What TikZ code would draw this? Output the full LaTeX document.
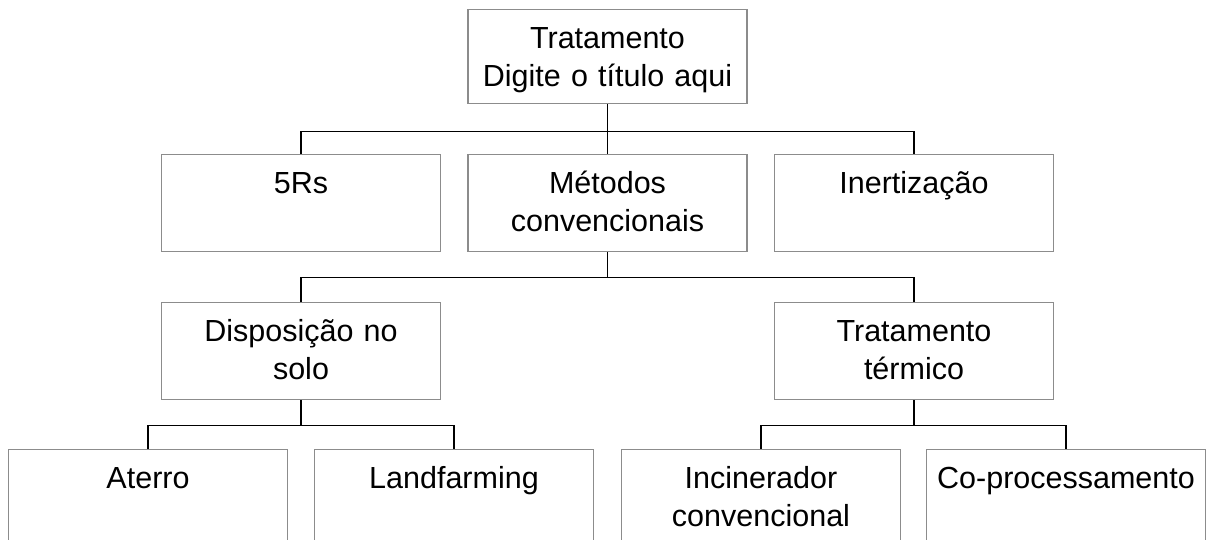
\documentclass[tikz,border=0pt]{standalone}
\usepackage{fontspec}
\setmainfont{Liberation Sans}

\tikzset{
  caixa/.style={draw=black!45, line width=1.2pt, anchor=north, inner sep=0pt,
    text width=279pt, align=center, text height=39pt, text depth=58pt,
    font=\fontsize{30.5}{37.5}\selectfont},
  liga/.style={line width=1.3pt}
}

\begin{document}
\begin{tikzpicture}[x=1pt,y=1pt]

    \useasboundingbox (0,0) rectangle (1208,540);
    \clip (0,0) rectangle (1208,540);

    % top box
    \node[caixa, text depth=55pt] (topo) at (607.5,531) {Tratamento\\Digite o título aqui};

    % second row
    \node[caixa] (cincoR) at (301,386) {5Rs};
    \node[caixa] (metodos) at (607.5,386) {Métodos\\convencionais};
    \node[caixa] (inert) at (914,386) {Inertização};

    % third row
    \node[caixa] (dispo) at (301,238) {Disposição no\\solo};
    \node[caixa] (termico) at (914,238) {Tratamento\\térmico};

    % bottom row, cut off by the page edge
    \node[caixa, text depth=100pt] (aterro) at (148,91) {Aterro};
    \node[caixa, text depth=100pt] (landf) at (454,91) {Landfarming};
    \node[caixa, text depth=100pt] (incin) at (761,91) {Incinerador\\convencional};
    \node[caixa, text depth=100pt] (coproc) at (1066,91) {Co-processamento};

    % connectors
    \draw[liga] (topo.south) -- ++(0,-27) coordinate (b1);
    \draw[liga] (cincoR.north) |- (b1) -| (inert.north);
    \draw[liga] (b1) -- (metodos.north);

    \draw[liga] (metodos.south) -- ++(0,-25) coordinate (b2);
    \draw[liga] (dispo.north) |- (b2) -| (termico.north);

    \draw[liga] (dispo.south) -- ++(0,-25) coordinate (b3);
    \draw[liga] (aterro.north) |- (b3) -| (landf.north);

    \draw[liga] (termico.south) -- ++(0,-25) coordinate (b4);
    \draw[liga] (incin.north) |- (b4) -| (coproc.north);

\end{tikzpicture}
\end{document}
